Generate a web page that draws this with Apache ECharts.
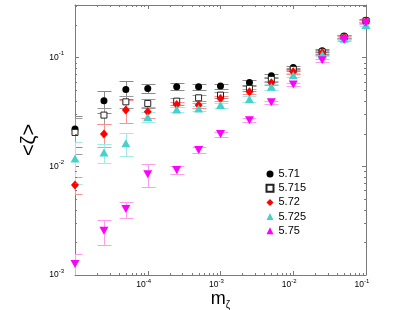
<!DOCTYPE html>
<html><head><meta charset="utf-8">
<script src="https://cdn.jsdelivr.net/npm/echarts@6/dist/echarts.min.js"></script>
<style>html,body{margin:0;padding:0;background:#fff}#c{width:409px;height:310px}</style>
</head><body><div id="c"></div>
<script>
// ---- data ----
const mz = [1e-5, 2.5e-5, 5e-5, 1e-4, 2.5e-4, 5e-4, 1e-3, 2.5e-3, 5e-3, 1e-2, 2.5e-2, 5e-2, 1e-1];
const seriesNames = ['5.71', '5.715', '5.72', '5.725', '5.75'];
const v571  = [0.0220, 0.0401, 0.0510, 0.0521, 0.0539, 0.0539, 0.0547, 0.0592, 0.0681, 0.0813, 0.1155, 0.158, 0.221];
const e571  = [0.0070, 0.0090, 0.0098, 0.0050, 0.0040, 0.0030, 0.0030, 0.0030, 0.0030, 0.0030, 0.0040, 0.005, 0.006];
const v5715 = [0.0205, 0.0296, 0.0392, 0.0379, 0.0398, 0.0427, 0.0452, 0.0521, 0.0630, 0.0779, 0.1130, 0.155, 0.218];
const e5715 = [0.0075, 0.0050, 0.0050, 0.0036, 0.0030, 0.0030, 0.0030, 0.0030, 0.0030, 0.0030, 0.0040, 0.005, 0.006];
const v572  = [0.00672, 0.0198, 0.0329, 0.0317, 0.0371, 0.0366, 0.0421, 0.0485, 0.0586, 0.0740, 0.1107, 0.153, 0.215];
const e572  = [0.0012, 0.0048, 0.0077, 0.0037, 0.0020, 0.0020, 0.0020, 0.0025, 0.0030, 0.0030, 0.0040, 0.005, 0.006];
const v5725 = [0.01183, 0.01343, 0.01626, 0.0285, 0.0334, 0.0341, 0.0366, 0.0415, 0.0539, 0.0690, 0.1070, 0.149, 0.200];
const e5725 = [0.0050, 0.0027, 0.0039, 0.0030, 0.0020, 0.0020, 0.0020, 0.0025, 0.0030, 0.0030, 0.0040, 0.005, 0.006];
const v575  = [0.00126, 0.00255, 0.00404, 0.00847, 0.00923, 0.0141, 0.0198, 0.0266, 0.0388, 0.0565, 0.0948, 0.145, 0.209];
const e575  = [0.0003, 0.00066, 0.0007, 0.0020, 0.0008, 0.0009, 0.0011, 0.0012, 0.0015, 0.0020, 0.0030, 0.004, 0.005];
const xDecades = [1e-5, 1e-4, 1e-3, 1e-2];
const yDecades = [1e-3, 1e-2, 1e-1];
const minorMult = [2, 3, 4, 5, 6, 7, 8, 9];
const xMin = 1e-5, xMax = 0.1, yMin = 0.001, yMax = 0.305;

const values = [v571, v5715, v572, v5725, v575];
const errors = [e571, e5715, e572, e5725, e575];

// ---- styles ----
const FONT = 'Liberation Sans';
const AX = '#7a7a7a';
const styles = [
  {symbol: 'circle', size: 7, color: '#000000', border: '#000000', bw: 0, err: '#8a8a8a'},
  {symbol: 'rect', size: 6, color: '#ffffff', border: '#222222', bw: 1, err: '#9a9a9a'},
  {symbol: 'diamond', size: [8, 9], color: '#ff0000', border: '#ff0000', bw: 0, err: '#ff9090'},
  {symbol: 'triangle', size: [9, 8], color: '#48d1cc', border: '#48d1cc', bw: 0, err: '#a0ebe8'},
  {symbol: 'triangle', size: [9, 8], rotate: 180, color: '#ff00ff', border: '#ff00ff', bw: 0, err: '#ff9cec'}
];

function crisp(v) { return Math.round(v) + 0.5; }

function errRender(color) {
  return function (params, api) {
    const x = api.value(0), v = api.value(1), e = api.value(2);
    const cs = params.coordSys;
    const top = api.coord([x, v + e]);
    const lo = v - e;
    const bot = lo > 0 ? api.coord([x, lo]) : [top[0], cs.y + cs.height + 30];
    const px = crisp(top[0]), y1 = crisp(top[1]), y2 = crisp(bot[1]);
    const w = 7;
    const st = {stroke: color, lineWidth: 1};
    return {type: 'group', children: [
      {type: 'line', shape: {x1: px, y1: y1, x2: px, y2: y2}, style: st},
      {type: 'line', shape: {x1: px - w, y1: y1, x2: px + w, y2: y1}, style: st},
      {type: 'line', shape: {x1: px - w, y1: y2, x2: px + w, y2: y2}, style: st}
    ]};
  };
}

const xMinor = [], yMinor = [];
xDecades.forEach(d => minorMult.forEach(m => xMinor.push(d * m)));
yDecades.forEach(d => minorMult.forEach(m => { if (d * m < yMax) yMinor.push(d * m); }));
const tickData = xMinor.map(v => [v, yMin, 0]).concat(yMinor.map(v => [xMin, v, 1]));

function tickRender(params, api) {
  const cs = params.coordSys;
  const L = 2;
  const st = {stroke: AX, lineWidth: 1};
  if (api.value(2) === 0) {
    const px = crisp(api.coord([api.value(0), yMin])[0]);
    const yb = cs.y + cs.height, yt = cs.y;
    return {type: 'group', children: [
      {type: 'line', shape: {x1: px, y1: yb, x2: px, y2: yb - L}, style: st},
      {type: 'line', shape: {x1: px, y1: yt, x2: px, y2: yt + L}, style: st}
    ]};
  } else {
    const py = crisp(api.coord([xMin, api.value(1)])[1]);
    const xl = cs.x, xr = cs.x + cs.width;
    return {type: 'group', children: [
      {type: 'line', shape: {x1: xl, y1: py, x2: xl + L, y2: py}, style: st},
      {type: 'line', shape: {x1: xr, y1: py, x2: xr - L, y2: py}, style: st}
    ]};
  }
}

function expFmt(v) { return '{b|10}{s|' + Math.round(Math.log10(v)) + '}'; }

const axisCommon = {
  type: 'log', logBase: 10,
  axisLine: {show: true, lineStyle: {color: AX, width: 1}},
  axisTick: {show: true, inside: true, length: 4, lineStyle: {color: AX}},
  splitLine: {show: false}
};

const series = [];
seriesNames.forEach((n, i) => {
  series.push({
    type: 'custom', name: 'err' + i, xAxisIndex: 0, yAxisIndex: 0, clip: true, silent: true, z: 1,
    renderItem: errRender(styles[i].err), encode: {x: 0, y: 1},
    data: mz.map((x, j) => [x, values[i][j], errors[i][j]])
  });
});
seriesNames.forEach((n, i) => {
  const s = styles[i];
  series.push({
    type: 'scatter', name: n, xAxisIndex: 0, yAxisIndex: 0, z: 3 + i,
    symbol: s.symbol, symbolSize: s.size, symbolRotate: s.rotate || 0,
    itemStyle: {color: s.color, borderColor: s.border, borderWidth: s.bw, opacity: 1},
    emphasis: {disabled: true},
    data: mz.map((x, j) => [x, values[i][j]])
  });
});
series.push({
  type: 'custom', name: 'ticks', xAxisIndex: 0, yAxisIndex: 0, clip: false, silent: true, z: 10,
  renderItem: tickRender, encode: {x: 0, y: 1}, data: tickData
});

const option = {
  animation: false,
  backgroundColor: '#ffffff',
  grid: {left: 75, right: 43, top: 5, bottom: 35, containLabel: false, outerBoundsMode: 'none'},
  legend: {
    orient: 'vertical', left: 265.5, top: 168.5, padding: 0,
    itemWidth: 7, itemHeight: 7, itemGap: 3.2,
    textStyle: {fontSize: 11, fontFamily: FONT, color: '#000'},
    data: seriesNames, selectedMode: false
  },
  xAxis: [
    Object.assign({}, axisCommon, {
      position: 'bottom', min: xMin, max: xMax,
      name: '{m|m}{s|ζ}', nameLocation: 'middle', nameGap: 13, nameMoveOverlap: false,
      nameTextStyle: {rich: {
        m: {fontSize: 18, fontFamily: FONT, color: '#000', lineHeight: 22},
        s: {fontSize: 10, fontFamily: FONT, color: '#000', lineHeight: 10, verticalAlign: 'bottom'}
      }},
      axisLabel: {show: true, margin: 3, showMinLabel: false, formatter: expFmt, rich: {
        b: {fontSize: 8.5, fontFamily: FONT, color: '#000', lineHeight: 14},
        s: {fontSize: 6, fontFamily: FONT, color: '#000', lineHeight: 6, verticalAlign: 'top', padding: [0, 8, 0, 0]}
      }}
    }),
    Object.assign({}, axisCommon, {position: 'top', min: xMin, max: xMax, axisLabel: {show: false}})
  ],
  yAxis: [
    Object.assign({}, axisCommon, {
      position: 'left', min: yMin, max: yMax,
      name: '<ζ>', nameLocation: 'middle', nameRotate: 90, nameGap: 36, nameMoveOverlap: false,
      nameTextStyle: {fontSize: 20, fontFamily: FONT, color: '#000'},
      axisLabel: {show: true, margin: 11, showMaxLabel: false, formatter: expFmt, rich: {
        b: {fontSize: 8.5, fontFamily: FONT, color: '#000', lineHeight: 14},
        s: {fontSize: 6, fontFamily: FONT, color: '#000', lineHeight: 6, verticalAlign: 'top'}
      }}
    }),
    Object.assign({}, axisCommon, {position: 'right', min: yMin, max: yMax, axisLabel: {show: false}})
  ],
  series: series
};

const chart = echarts.init(document.getElementById('c'));
chart.setOption(option);
</script>
</body></html>
